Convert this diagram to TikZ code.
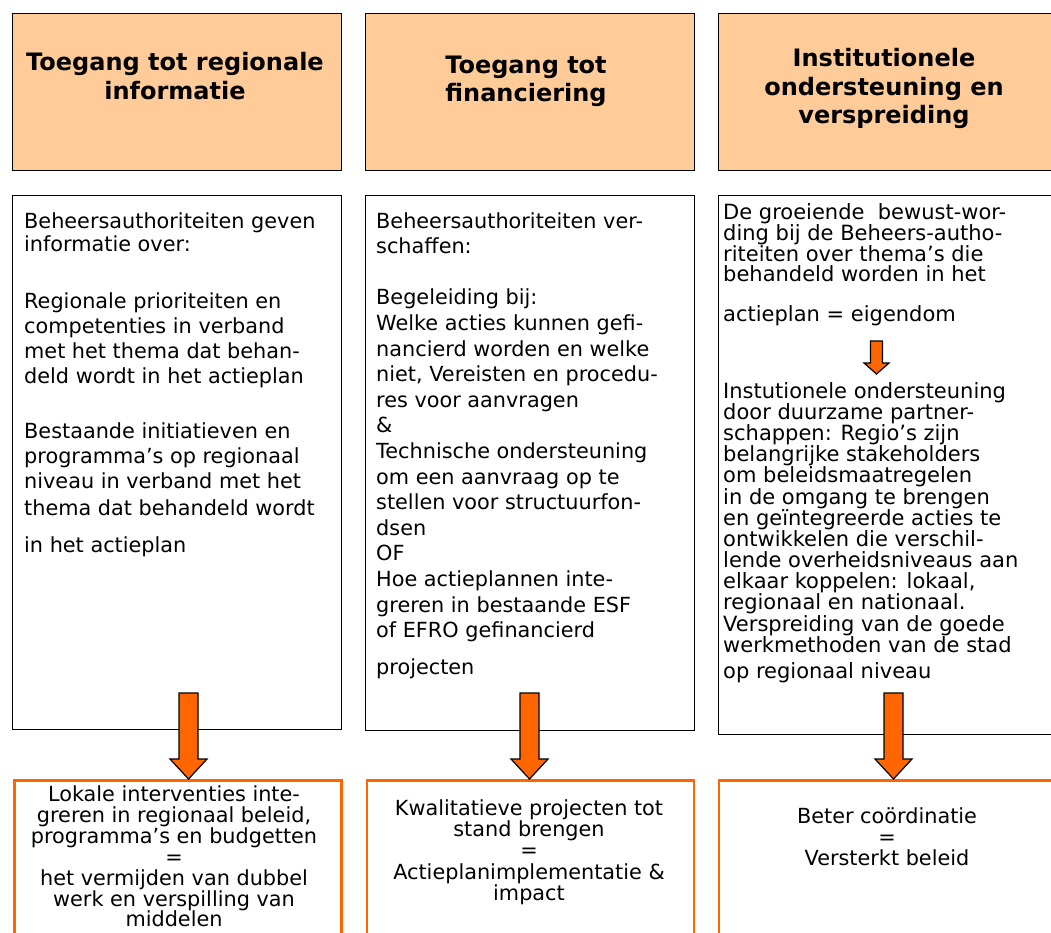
\documentclass[tikz,border=0pt]{standalone}
\usepackage{fontspec}
\setmainfont{DejaVu Sans}
\usepackage{xcolor}
\usetikzlibrary{positioning, calc}

\definecolor{peach}{HTML}{FFCC99}
\definecolor{signal}{HTML}{FF6600}

% block arrow pointing down, tail at (#1), tip at (#2)
\newcommand{\blockarrow}[5]{%
  \draw[bigarrow] let \p1=(#1), \p2=(#2) in
    (\x2-#3,\y1) -- (\x2+#3,\y1) -- (\x2+#3,\y2+#5) -- (\x2+#4,\y2+#5)
    -- (\x2,\y2) -- (\x2-#4,\y2+#5) -- (\x2-#3,\y2+#5) -- cycle;}

\begin{document}
\begin{tikzpicture}[x=1pt, y=-1pt,
          header/.style={rectangle, draw, fill=peach, line width=1pt, minimum width=329pt, minimum height=157pt, anchor=north west, inner sep=0pt},
          panel/.style={rectangle, draw, fill=white, line width=1pt, minimum width=329pt, anchor=north west, inner sep=0pt},
          result/.style={rectangle, draw=signal, line width=2.5pt, minimum width=327pt, minimum height=200pt, anchor=north west, inner sep=0pt},
          headtext/.style={anchor=north, align=center, inner sep=0pt, font=\fontsize{24}{28.3}\selectfont\bfseries},
          bodytext/.style={anchor=north west, align=left, inner sep=0pt, font=\fontsize{20.8}{25.6}\selectfont},
          resulttext/.style={anchor=north, align=center, inner sep=0pt, font=\fontsize{20.8}{21.2}\selectfont},
          bigarrow/.style={draw, fill=signal, line width=1.2pt, line join=miter}
      ]
      \useasboundingbox (0,0) rectangle (1051,932);
      \clip (0,0) rectangle (1051,932);

      % Headers
      \node[header] (head1) at (12,13) {};
      \node[header] (head2) at (365,13) {};
      \node[header, minimum width=345pt] (head3) at (718,13) {};

      % Panels
      \node[panel, minimum height=534pt] (mid1) at (12,195) {};
      \node[panel, minimum height=535pt] (mid2) at (365,195) {};
      \node[panel, minimum height=539pt, minimum width=345pt] (mid3) at (718,195) {};

      % Results
      \node[result] (bot1) at (13,779) {};
      \node[result] (bot2) at (365.5,779) {};
      \node[result, minimum width=345pt] (bot3) at (717.5,779) {};

      % Arrows
      \coordinate (a1) at (188.5,693);
      \coordinate (a2) at (529.5,693);
      \coordinate (a3) at (893.5,693);
      \blockarrow{a1}{a1 |- bot1.north}{9.5pt}{18.5pt}{20pt}
      \blockarrow{a2}{a2 |- bot2.north}{9.5pt}{18.5pt}{20pt}
      \blockarrow{a3}{a3 |- bot3.north}{9.5pt}{18.5pt}{20pt}
      \coordinate (s1) at (876.5,341);
      \coordinate (s2) at (876.5,374);
      \blockarrow{s1}{s2}{6pt}{12.5pt}{11pt}

      % Header labels
      \node[headtext] (title1) at (175,52.5) {Toegang tot regionale\\informatie};
      \node[headtext] (title2) at (526,55.5) {Toegang tot\\financiering};
      \node[headtext] (title3) at (884,48.5) {Institutionele\\ondersteuning en\\verspreiding};

      % Panel texts
      \node[bodytext, font=\fontsize{20.8}{25}\selectfont] (info) at (24,212.2) {Beheersauthoriteiten geven\\[-1.3pt]
        informatie over:\\[31.3pt]
        Regionale prioriteiten en\\
        competenties in verband\\
        met het thema dat behan-\\
        deld wordt in het actieplan\\[30pt]
        Bestaande initiatieven en\\
        programma’s op regionaal\\
        niveau in verband met het\\[2pt]
        thema dat behandeld wordt\\[12pt]
        in het actieplan};
      \node[bodytext] (funding) at (376,212.2) {Beheersauthoriteiten ver-\\
        schaffen:\\[25.4pt]
        Begeleiding bij:\\
        Welke acties kunnen gefi-\\
        nancierd worden en welke\\
        niet, Vereisten en procedu-\\
        res voor aanvragen\\
        \&\\
        Technische ondersteuning\\
        om een aanvraag op te\\
        stellen voor structuurfon-\\
        dsen\\
        OF\\
        Hoe actieplannen inte-\\
        greren in bestaande ESF\\
        of EFRO gefinancierd\\[11.4pt]
        projecten};
      \node[bodytext, font=\fontsize{21}{20.8}\selectfont] (aware) at (723,203.3) {De groeiende \ bewust-wor-\\
        ding bij de Beheers-autho-\\
        riteiten over thema’s die\\
        behandeld worden in het\\[19.2pt]
        actieplan = eigendom};
      \node[bodytext, font=\fontsize{21}{21.17}\selectfont] (support) at (723,382) {Instutionele ondersteuning\\
        door duurzame partner-\\
        schappen: Regio’s zijn\\
        belangrijke stakeholders\\
        om beleidsmaatregelen\\
        in de omgang te brengen\\
        en geïntegreerde acties te\\
        ontwikkelen die verschil-\\
        lende overheidsniveaus aan\\
        elkaar koppelen: lokaal,\\
        regionaal en nationaal.\\
        Verspreiding van de goede\\
        werkmethoden van de stad\\[4.8pt]
        op regionaal niveau};

      % Result texts
      \node[resulttext, font=\fontsize{20.8}{20.9}\selectfont] (effect1) at (174,785.5) {Lokale interventies inte-\\greren in regionaal beleid,\\programma’s en budgetten\\=\\het vermijden van dubbel\\werk en verspilling van\\middelen};
      \node[resulttext] (effect2) at (529,799.4) {Kwalitatieve projecten tot\\stand brengen\\=\\Actieplanimplementatie \&\\impact};
      \node[resulttext] (effect3) at (887,807) {Beter coördinatie\\=\\Versterkt beleid};

      \end{tikzpicture}
\end{document}
